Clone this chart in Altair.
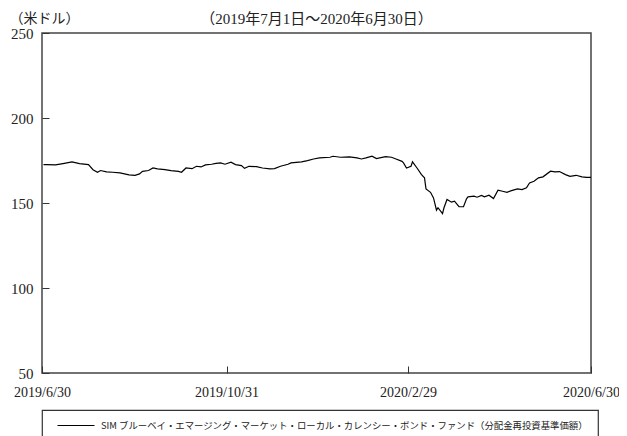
import altair as alt
import pandas as pd

# ---- data ----
dates = [
    "2019/07/01", "2019/07/03", "2019/07/09", "2019/07/14", "2019/07/20", "2019/07/25",
    "2019/07/31", "2019/08/03", "2019/08/06", "2019/08/08", "2019/08/12", "2019/08/16",
    "2019/08/21", "2019/08/24", "2019/08/27", "2019/08/31", "2019/09/03", "2019/09/05",
    "2019/09/09", "2019/09/12", "2019/09/15", "2019/09/20", "2019/09/24", "2019/09/29",
    "2019/10/01", "2019/10/04", "2019/10/08", "2019/10/11", "2019/10/14", "2019/10/17",
    "2019/10/21", "2019/10/24", "2019/10/27", "2019/10/30", "2019/11/03", "2019/11/06",
    "2019/11/10", "2019/11/12", "2019/11/15", "2019/11/20", "2019/11/24", "2019/11/29",
    "2019/12/02", "2019/12/06", "2019/12/11", "2019/12/13", "2019/12/20", "2019/12/24",
    "2019/12/28", "2020/01/01", "2020/01/08", "2020/01/10", "2020/01/15", "2020/01/21",
    "2020/01/26", "2020/01/29", "2020/02/01", "2020/02/05", "2020/02/08", "2020/02/14",
    "2020/02/18", "2020/02/21", "2020/02/25", "2020/02/26", "2020/02/28", "2020/03/02",
    "2020/03/03", "2020/03/06", "2020/03/09", "2020/03/11", "2020/03/12", "2020/03/15",
    "2020/03/17", "2020/03/19", "2020/03/20", "2020/03/23", "2020/03/24", "2020/03/26",
    "2020/03/29", "2020/03/31", "2020/04/03", "2020/04/06", "2020/04/08", "2020/04/09",
    "2020/04/13", "2020/04/15", "2020/04/18", "2020/04/20", "2020/04/23", "2020/04/26",
    "2020/04/29", "2020/05/02", "2020/05/05", "2020/05/08", "2020/05/12", "2020/05/15",
    "2020/05/18", "2020/05/20", "2020/05/23", "2020/05/26", "2020/05/29", "2020/06/03",
    "2020/06/06", "2020/06/09", "2020/06/13", "2020/06/16", "2020/06/20", "2020/06/24",
    "2020/06/27", "2020/06/30",
]
values = [
    172.6, 172.6, 172.4, 173.2, 174.2, 173.2,
    172.6, 169.6, 168.1, 169.1, 168.3, 168.1,
    167.7, 167.1, 166.5, 166.3, 167.1, 168.6,
    169.1, 170.6, 170.1, 169.6, 169.1, 168.6,
    168.1, 170.6, 170.2, 171.6, 171.2, 172.4,
    172.8, 173.3, 173.6, 172.8, 174.0, 172.6,
    172.0, 170.4, 171.6, 171.4, 170.6, 170.1,
    170.2, 171.6, 172.8, 173.6, 174.2, 174.9,
    175.9, 176.5, 176.9, 177.5, 176.9, 177.1,
    176.5, 175.9, 176.5, 177.5, 176.1, 177.3,
    176.9, 175.9, 174.5, 173.6, 170.6, 171.6,
    174.2, 170.6, 166.7, 164.8, 158.3, 156.3,
    153.0, 145.8, 147.2, 143.7, 147.2, 152.1,
    150.5, 151.1, 147.8, 147.8, 152.5, 153.6,
    154.0, 153.4, 154.4, 153.6, 154.6, 152.6,
    157.5, 156.9, 156.3, 157.3, 158.3, 157.9,
    158.9, 161.8, 162.8, 164.8, 165.4, 168.7,
    168.3, 168.5, 166.7, 165.7, 166.3, 165.4,
    165.1, 165.1,
]
series_name = "SIM ブルーベイ・エマージング・マーケット・ローカル・カレンシー・ボンド・ファンド（分配金再投資基準価額）"
y_ticks = [50, 100, 150, 200, 250]
x_ticks = [(2019, 6, 30), (2019, 10, 31), (2020, 2, 29), (2020, 6, 30)]
unit_label = "（米ドル）"
period_title = "（2019年7月1日～2020年6月30日）"

df = pd.DataFrame({"date": dates, "value": values, "series": series_name})

FONT = "Liberation Serif, Noto Sans CJK JP"

x_vals = [alt.DateTime(year=y, month=m, date=d) for (y, m, d) in x_ticks]

chart = (
    alt.Chart(df)
    .mark_line(color="black", strokeWidth=1.2)
    .encode(
        x=alt.X(
            "date:T",
            scale=alt.Scale(domain=[x_vals[0], x_vals[-1]], nice=False),
            axis=alt.Axis(
                values=x_vals,
                format="%Y/%-m/%-d",
                title=None,
                grid=False,
                domain=False,
                offset=-7,
                tickSize=7,
                tickColor="#333",
                labelPadding=12,
                labelFlush=False,
                labelOverlap=False,
                labelFont=FONT,
                labelFontSize=14,
                labelColor="#222",
            ),
        ),
        y=alt.Y(
            "value:Q",
            scale=alt.Scale(domain=[50, 250], nice=False, zero=False),
            axis=alt.Axis(
                values=y_ticks,
                title=unit_label,
                titleAngle=0,
                titleAlign="left",
                titleBaseline="middle",
                titleX=-40,
                titleY=-15,
                titleFont=FONT,
                titleFontSize=14,
                titleFontWeight="normal",
                titleColor="#222",
                grid=False,
                domain=False,
                offset=-7,
                tickSize=7,
                tickColor="#333",
                labelPadding=9,
                labelFont=FONT,
                labelFontSize=15,
                labelColor="#222",
                labelBaseline="middle",
            ),
        ),
        color=alt.Color(
            "series:N",
            scale=alt.Scale(range=["black"]),
            legend=alt.Legend(
                title=None,
                orient="none",
                legendX=0,
                legendY=377,
                symbolType="M0,0H7.4",
                symbolSize=100,
                symbolStrokeWidth=1,
                symbolStrokeColor="black",
                labelFont="Noto Sans CJK JP",
                labelFontSize=9.4,
                labelColor="#222",
                labelLimit=700,
                labelOffset=38,
                padding=10,
            ),
        ),
    )
    .properties(
        width=549,
        height=340,
        autosize=alt.AutoSizeParams(type="none"),
        padding={"left": 34, "top": 25, "right": 28, "bottom": 70},
        title=alt.TitleParams(
            period_title,
            anchor="middle",
            frame="group",
            font=FONT,
            fontSize=15,
            fontWeight="normal",
            color="#222",
            dy=20,
        ),
    )
    .configure_view(stroke="#444", strokeWidth=1.5)
    .configure_legend(strokeColor="#333", strokeWidth=1.2)
)

chart.save("out.html", embed_options={"renderer": "svg", "actions": False})
